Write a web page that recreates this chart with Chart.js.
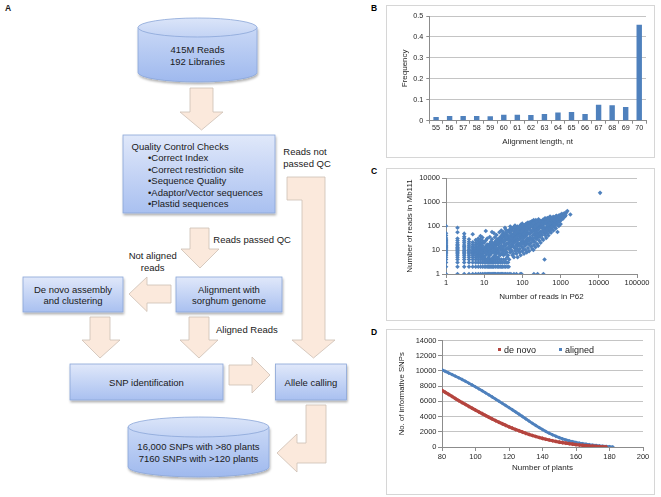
<!DOCTYPE html>
<html><head><meta charset="utf-8">
<script src="https://cdn.jsdelivr.net/npm/chart.js@4.4.1/dist/chart.umd.min.js"></script>
<style>
html,body{margin:0;padding:0;background:#fff;}
#page{position:relative;width:661px;height:497px;overflow:hidden;font-family:"Liberation Sans",Arial,sans-serif;}
.frame{position:absolute;border:1px solid #d6d6d6;box-sizing:border-box;background:#fff;}
.cv{position:absolute;}
.lab{position:absolute;font-weight:bold;font-size:8.5px;color:#000;}
.leg{position:absolute;font-size:9px;color:#222;line-height:10px;white-space:nowrap;}
.leg i{display:inline-block;width:3px;height:3px;margin-right:3px;vertical-align:2px;}
svg text{font-family:"Liberation Sans",Arial,sans-serif;font-size:9.5px;fill:#1a1a1a;}
</style></head>
<body><div id="page">
<svg width="661" height="497" style="position:absolute;left:0;top:0">
<defs>
<linearGradient id="gb" x1="0" y1="0" x2="0" y2="1"><stop offset="0" stop-color="#e0e8fa"/><stop offset="1" stop-color="#a9c0f0"/></linearGradient>
<linearGradient id="gc" x1="0" y1="0" x2="0" y2="1"><stop offset="0" stop-color="#c9d8f6"/><stop offset="1" stop-color="#9fb9ee"/></linearGradient>
<linearGradient id="gt" x1="0" y1="0" x2="0" y2="1"><stop offset="0" stop-color="#dbe5f9"/><stop offset="1" stop-color="#c3d3f4"/></linearGradient>
<filter id="sh" x="-10%" y="-10%" width="130%" height="150%"><feDropShadow dx="0.8" dy="2" stdDeviation="1.2" flood-color="#000" flood-opacity="0.3"/></filter>
</defs>
<text x="5" y="11" style="font-weight:bold;font-size:8.5px">A</text>
<g fill="#fbe9dc" stroke="#cdbfb4" stroke-width="0.8">
<polygon points="190,88 213,88 213,112 223,112 201.5,130 180,112 190,112"/>
<polygon points="190,228 209,228 209,249 219,249 200,268 181,249 190,249"/>
<polygon points="171,285 147,285 147,277 129,294 147,311.5 147,303 171,303"/>
<polygon points="90,317 110,317 110,340 120,340 100,358 82,340 90,340"/>
<polygon points="189,317 209,317 209,340 218,340 199,358 180,340 189,340"/>
<polygon points="229,365 252,365 252,357 270,375 252,393 252,385 229,385"/>
<polygon points="287,177 325,177 325,340 335,340 313.5,358 292,340 302,340 302,200 287,200"/>
<polygon points="306,405 326,405 326,463 297,463 297,472 277,453 297,434 297,443 306,443"/>
</g>
<g stroke="#8aa6d8" stroke-width="0.8">
<g filter="url(#sh)">
<path d="M138,27.5 L138,72.5 A59.5,9.5 0 0 0 257,72.5 L257,27.5 Z" fill="url(#gc)"/>
<rect x="123" y="135" width="152" height="78" fill="url(#gb)"/>
<rect x="23" y="277" width="100" height="35" fill="url(#gb)"/>
<rect x="176" y="277" width="106" height="35" fill="url(#gb)"/>
<rect x="70" y="364" width="153" height="36" fill="url(#gb)"/>
<rect x="275.5" y="364" width="71" height="36" fill="url(#gb)"/>
<path d="M128,427 L128,467 A70.5,10 0 0 0 269,467 L269,427 Z" fill="url(#gc)"/>
</g>
<ellipse cx="197.5" cy="27.5" rx="59.5" ry="9.5" fill="url(#gt)"/>
<ellipse cx="198.5" cy="427" rx="70.5" ry="10" fill="url(#gt)"/>
</g>
<text x="197.5" y="53.3" text-anchor="middle">415M Reads</text>
<text x="197.5" y="65" text-anchor="middle">192 Libraries</text>
<text x="131.5" y="149.8">Quality Control Checks</text>
<text x="148" y="161.1">•Correct Index</text>
<text x="148" y="172.6">•Correct restriction site</text>
<text x="148" y="184.1">•Sequence Quality</text>
<text x="148" y="195.6">•Adaptor/Vector sequences</text>
<text x="148" y="207.1">•Plastid sequences</text>
<text x="283.3" y="155">Reads not</text>
<text x="283.3" y="166.6">passed QC</text>
<text x="213.3" y="242.6">Reads passed QC</text>
<text x="152.7" y="259.3" text-anchor="middle">Not aligned</text>
<text x="152.7" y="270.6" text-anchor="middle">reads</text>
<text x="73" y="292.6" text-anchor="middle">De novo assembly</text>
<text x="73" y="304" text-anchor="middle">and clustering</text>
<text x="229" y="292.6" text-anchor="middle">Alignment with</text>
<text x="229" y="304" text-anchor="middle">sorghum genome</text>
<text x="216" y="332.6">Aligned Reads</text>
<text x="146.5" y="386" text-anchor="middle">SNP identification</text>
<text x="311" y="386" text-anchor="middle">Allele calling</text>
<text x="198.5" y="450" text-anchor="middle">16,000 SNPs with &gt;80 plants</text>
<text x="198.5" y="461.6" text-anchor="middle">7160 SNPs with &gt;120 plants</text>
</svg>

<div class="lab" style="left:371px;top:3px">B</div>
<div class="lab" style="left:371px;top:166px">C</div>
<div class="lab" style="left:371px;top:327px">D</div>

<div class="frame" style="left:386px;top:5px;width:269px;height:153px"></div>
<div class="frame" style="left:386px;top:168px;width:269px;height:153px"></div>
<div class="frame" style="left:386px;top:329px;width:269px;height:166px"></div>

<div class="cv" style="left:386px;top:5px;width:269px;height:153px"><canvas id="cB"></canvas></div>
<div class="cv" style="left:386px;top:168px;width:269px;height:153px"><canvas id="cC"></canvas></div>
<div class="cv" style="left:386px;top:329px;width:269px;height:166px"><canvas id="cD"></canvas></div>

<div class="leg" style="left:498px;top:345px"><i style="background:#b5453f"></i>de novo</div>
<div class="leg" style="left:559px;top:345px"><i style="background:#4f81bd"></i>aligned</div>
</div>
<script>
// ---- Panel B data ----
const bLengths = ['55','56','57','58','59','60','61','62','63','64','65','66','67','68','69','70'];
const bFrequency = [0.018,0.023,0.023,0.023,0.021,0.029,0.029,0.027,0.032,0.039,0.042,0.032,0.076,0.074,0.065,0.458];
const bYTicks = [0,0.1,0.2,0.3,0.4,0.5];

// ---- Panel C data (reads in P62 vs reads in Mb111) ----
const cXTicks = [1,10,100,1000,10000,100000];
const cYTicks = [1,10,100,1000,10000];
const cColumnX = [1,2,3,4,5,6,7,8,9];
const cColumnY = [
 [1,2,3,4,5,6,7,8,9,10,11,12,13,14,15,16,18,20,22,25,28,32,40,50,100],
 [1,2,3,4,5,6,7,8,9,10,11,12,13,15,17,20,25,30,55,85],
 [1,2,3,4,5,6,7,8,9,10,12,14,16,20,24,30,36,48],
 [1,2,3,4,5,6,7,8,9,10,11,13,15,18,22,28],
 [1,2,3,4,5,6,7,8,9,10,12,14,17,21,45],
 [1,2,3,4,5,6,7,8,9,10,11,13,16,20,26],
 [1,2,3,4,5,6,7,8,9,10,12,14,18,23,30],
 [1,2,3,4,5,6,7,8,9,11,13,16,20,27,38],
 [1,2,3,4,5,6,7,8,10,12,15,19,24,33]
];
const cRowY = [1,2,3,4];
const cRowX = [
 [10,11,12,13,14,15,16,17,18,19,20,22,24,26,28,30,33,36,40,45,50,60,70,88,95,200,250,355],
 [10,11,12,13,14,15,16,17,18,20,22,24,26,28,30,33,36,40,44],
 [10,11,12,13,14,15,16,17,18,20,22,24,27,30,34,38,42],
 [10,11,12,13,14,15,16,18,20,22,25,28,32,36,380]
];
const cCloud = [
 [10,5],[11,6],[12,7],[10,8],[11,9],[12,10],[10,12],[11,14],[12,17],[10,20],[11,25],[12,30],[11,62],
 [13,5],[14,6],[15,7],[16,8],[13,9],[14,10],[15,11],[16,13],[13,15],[14,18],[15,22],[16,28],[14,35],[16,56],
 [17,5],[19,6],[21,7],[18,8],[20,9],[22,10],[17,12],[19,14],[21,16],[18,19],[20,23],[22,28],[19,34],[21,42],[18,50],
 [23,5],[26,6],[29,7],[24,8],[27,10],[30,11],[25,13],[28,15],[23,17],[26,20],[29,24],[24,29],[27,36],[30,45],[25,55],[28,65],
 [32,6],[36,7],[39,8],[33,9],[37,11],[31,13],[35,15],[38,18],[32,21],[36,25],[40,30],[34,37],[38,46],[31,58],[37,70],[35,85],
 [42,6],[48,8],[53,9],[45,11],[50,13],[55,15],[43,18],[47,21],[52,25],[44,30],[49,36],[54,44],[46,54],[51,66],[55,80],[48,95],
 [58,7],[65,9],[72,11],[60,13],[68,16],[75,19],[57,22],[63,26],[70,31],[59,37],[66,44],[73,53],[61,64],[69,78],[74,95],[64,105],
 [78,9],[85,11],[95,14],[80,17],[90,20],[98,24],[82,28],[88,33],[96,39],[79,46],[86,55],[93,66],[100,80],[84,98],[92,115],[99,125],
 [105,12],[118,15],[132,18],[110,22],[125,26],[138,31],[102,36],[115,42],[128,50],[108,60],[120,72],[135,86],[112,104],[126,125],[140,140],
 [150,17],[170,20],[195,24],[145,29],[160,34],[185,40],[155,47],[175,56],[200,67],[148,80],[165,95],[190,113],[158,135],[180,160],[198,175],
 [210,22],[240,28],[270,34],[220,40],[250,47],[280,55],[205,65],[230,77],[260,90],[215,106],[245,125],[275,148],[225,175],[265,190],
 [290,38],[330,42],[380,50],[300,58],[350,68],[395,80],[285,94],[320,110],[370,130],[310,152],[345,180],[390,210],
 [420,55],[480,65],[540,76],[440,88],[500,102],[560,118],[410,137],[460,160],[520,186],[450,215],[530,250],
 [580,85],[660,100],[750,115],[600,133],[700,153],[790,176],[620,200],[720,230],[780,265],
 [820,140],[950,160],[1050,185],[880,210],[1000,240],[900,275],[1080,320],
 [1150,200],[1300,250],[1200,300],[1400,360],[1500,420],[1800,300],
 [45,4],[60,5],[75,5],[90,6],[110,7],[130,8],[150,9],[180,11],[220,13],[260,15],[300,20],[350,26],[420,32],[480,40],[560,52],[650,65],[750,80],[900,100],[1000,120],
 [40,5],[55,6],[70,7],[85,8],[100,9],[120,10],[140,12],[170,14],[200,16],[240,18],[280,24],[330,30],[400,40],[460,48],[520,60],[600,72],[700,90],[850,110],
 [12,13],[15,16],[20,18],[25,25],[30,33],[40,40],[50,48],[60,58],[80,60],[100,70],[120,95],[150,110],[200,100],[250,130],[300,160],[400,170],[500,140],[600,170],[700,190],[800,220],[950,220],[1100,260],
 [14,12],[18,15],[22,20],[27,27],[35,28],[44,38],[55,35],[65,45],[85,42],[105,50],[130,60],[160,70],[200,80],[240,95],[290,110],[350,100],[420,120],[500,90],[580,110],[660,125],[820,170],
 [11,11],[13,12],[15,14],[17,17],[19,20],[21,25],[23,22],[26,30],[29,38],[33,44],[37,52],[42,62],[47,72],[53,85],[60,90],[68,70],[76,85],[84,75],[92,90],[100,100],[110,85],[120,115],[130,100],[145,120],[160,145],[175,125],[190,140],[210,150],[230,120],[255,110],[270,160],[300,130],[320,140],[360,155],[380,190],[410,200],[440,180],[470,130],[490,200],[530,160],[560,220],[620,150],[640,240],[680,210],[740,250],[760,200],[860,250],[920,190],[980,290],[1200,230],[1250,340],[1350,280],
 [12,4],[16,4],[20,5],[25,7],[30,8],[35,10],[40,12],[46,14],[52,17],[58,19],[64,22],[72,24],[80,27],[88,30],[96,33],[105,30],[115,35],[125,40],[135,45],[145,50],[165,55],[185,62],[205,48],[225,58],[250,68],[275,80],[310,85],[340,90],[370,75],[440,75],[480,100],[540,95],[620,95],[680,115],[760,140],[880,150],[960,200],
 [50,10],[62,12],[74,14],[86,16],[98,18],[110,18],[122,20],[136,22],[150,24],[170,28],[190,30],[215,32],[235,36],[260,42],[290,48],[320,55],[350,60],[400,60],[450,70],[520,80],[600,90],
 [11,8],[13,7],[14,8],[17,9],[19,10],[21,11],[24,12],[27,13],[30,14],[34,16],[38,17],[43,20],[48,23],[54,27],[60,30],[67,34],[74,38],[82,40],[90,45],[98,50],[108,45],[118,55],[128,65],[140,75],[155,85],[170,100],[185,90],[200,120],[220,135],[240,150],[265,115],[285,140],[310,120],[340,125],[370,145],[400,140],[430,150],[460,110],[490,170],[520,130],[550,190],[580,175],[610,210],[650,185],[690,170],[730,205],[770,225],[840,195],[900,240],[1000,270],
 [16,20],[20,13],[24,18],[28,20],[33,26],[38,33],[44,25],[50,30],[57,40],[63,50],[70,60],[78,65],[88,58],[97,60],[108,75],[118,85],[130,80],[142,95],[155,100],[168,115],[182,105],[196,130],[212,90],[228,100],[246,110],[262,120],
 [194,10],[830,56],[10800,2400]
];

// ---- Panel D data ----
const dPlants = [80,82,84,86,88,90,92,94,96,98,100,102,104,106,108,110,112,114,116,118,120,122,124,126,128,130,132,134,136,138,140,142,144,146,148,150,152,154,156,158,160,162,164,166,168,170,172,174,176,178,180,182];
const dDeNovo = [7450,7175,6905,6640,6370,6100,5845,5590,5340,5095,4850,4610,4375,4140,3910,3680,3465,3255,3050,2850,2650,2470,2295,2125,1960,1800,1655,1515,1380,1250,1130,1020,920,820,730,650,575,505,435,370,310,265,220,180,140,110,80,55,30,12,null,null];
const dAligned = [10150,9940,9730,9520,9310,9100,8870,8635,8395,8150,7900,7645,7385,7120,6850,6575,6300,6020,5740,5460,5180,4895,4605,4310,4010,3710,3410,3115,2830,2555,2295,2050,1820,1605,1410,1235,1075,935,810,700,600,515,440,370,305,250,200,155,115,80,50,25];

// ---- styling ----
Chart.defaults.font.family = "'Liberation Sans', Arial, sans-serif";
Chart.defaults.color = '#262626';
Chart.defaults.animation = false;
Chart.defaults.events = [];
Chart.defaults.plugins.legend.display = false;
Chart.defaults.plugins.tooltip.enabled = false;
const GRID = '#c4c4c4', AXIS = '#8c8c8c';
const BLUE = '#4f81bd', RED = '#b5453f';

// Panel B
new Chart(document.getElementById('cB'), {
  type: 'bar',
  data: { labels: bLengths, datasets: [{ data: bFrequency, backgroundColor: BLUE, barPercentage: 0.4, categoryPercentage: 1 }] },
  options: {
    responsive: true, maintainAspectRatio: false,
    layout: { padding: { left: 14.2, right: 9, top: 11, bottom: 0 } },
    scales: {
      x: {
        grid: { drawOnChartArea: false, drawTicks: true, tickLength: 3, color: AXIS, offset: true },
        border: { color: AXIS },
        ticks: { font: { size: 7.2 }, padding: 0, maxRotation: 0, autoSkip: false },
        title: { display: true, text: 'Alignment length, nt', font: { size: 8 }, padding: { top: 0, bottom: 11.2 } },
        afterFit(s) { s.height = 37.3; }
      },
      y: {
        min: 0, max: 0.5,
        afterBuildTicks(s) { s.ticks = bYTicks.map(v => ({ value: v })); },
        grid: { color: GRID, drawTicks: true, tickLength: 3, tickColor: AXIS },
        border: { color: AXIS },
        ticks: { font: { size: 7.2 }, padding: 3, callback: v => String(v) },
        title: { display: true, text: 'Frequency', font: { size: 8 }, padding: { top: 0, bottom: 0 } },
        afterFit(s) { s.width = 29.1; }
      }
    }
  }
});

// Panel C
const cPoints = [];
cColumnX.forEach((x, i) => cColumnY[i].forEach(y => cPoints.push({ x, y })));
cRowY.forEach((y, i) => cRowX[i].forEach(x => cPoints.push({ x, y })));
cCloud.forEach(p => cPoints.push({ x: p[0], y: p[1] }));

new Chart(document.getElementById('cC'), {
  type: 'scatter',
  data: { datasets: [{ data: cPoints, backgroundColor: BLUE, borderWidth: 0, pointStyle: 'rectRot', pointRadius: 2.3 }] },
  options: {
    responsive: true, maintainAspectRatio: false,
    layout: { padding: { left: 19.2, right: 18, top: 10, bottom: 0 } },
    scales: {
      x: {
        type: 'logarithmic', min: 1, max: 100000,
        afterBuildTicks(s) { s.ticks = cXTicks.map(v => ({ value: v })); },
        grid: { drawOnChartArea: false, drawTicks: true, tickLength: 4, color: AXIS },
        border: { color: AXIS },
        ticks: { font: { size: 7.5 }, padding: 0.8, maxRotation: 0, autoSkip: false, callback: v => String(v) },
        title: { display: true, text: 'Number of reads in P62', font: { size: 8 }, padding: { top: 0, bottom: 19.5 } },
        afterFit(s) { s.height = 47; }
      },
      y: {
        type: 'logarithmic', min: 1, max: 10000,
        afterBuildTicks(s) { s.ticks = cYTicks.map(v => ({ value: v })); },
        grid: { color: GRID, drawTicks: true, tickLength: 4, tickColor: AXIS },
        border: { color: AXIS },
        ticks: { font: { size: 7.5 }, padding: 2, autoSkip: false, callback: v => String(v) },
        title: { display: true, text: 'Number of reads in Mb111', font: { size: 8 }, padding: { top: 0, bottom: 0 } },
        afterFit(s) { s.width = 40.8; }
      }
    }
  }
});

// Panel D
const dDeNovoPts = dPlants.map((x, i) => ({ x, y: dDeNovo[i] })).filter(p => p.y !== null);
const dAlignedPts = dPlants.map((x, i) => ({ x, y: dAligned[i] }));
new Chart(document.getElementById('cD'), {
  type: 'scatter',
  data: { datasets: [
    { label: 'de novo', data: dDeNovoPts, showLine: true, borderColor: RED, borderWidth: 3.2, backgroundColor: RED, pointBorderWidth: 0, pointStyle: 'rectRot', pointRadius: 2.1 },
    { label: 'aligned', data: dAlignedPts, showLine: true, borderColor: BLUE, borderWidth: 2.8, backgroundColor: BLUE, pointBorderWidth: 0, pointStyle: 'rectRot', pointRadius: 1.9 }
  ] },
  options: {
    responsive: true, maintainAspectRatio: false,
    layout: { padding: { left: 11.3, right: 12, top: 11.5, bottom: 0 } },
    scales: {
      x: {
        min: 80, max: 200,
        ticks: { stepSize: 20, font: { size: 7.5 }, padding: 1.5, maxRotation: 0 },
        grid: { drawOnChartArea: false, drawTicks: true, tickLength: 4, color: AXIS },
        border: { color: AXIS },
        title: { display: true, text: 'Number of plants', font: { size: 8 }, padding: { top: 0, bottom: 22.2 } },
        afterFit(s) { s.height = 48; }
      },
      y: {
        min: 0, max: 14000,
        ticks: { stepSize: 2000, font: { size: 7.5 }, padding: 1.5, callback: v => String(v) },
        grid: { color: GRID, drawTicks: true, tickLength: 4, tickColor: AXIS },
        border: { color: AXIS },
        title: { display: true, text: 'No. of informative SNPs', font: { size: 7.8 }, padding: { top: 0, bottom: 0 } },
        afterFit(s) { s.width = 44.7; }
      }
    }
  }
});
</script>
</body></html>
